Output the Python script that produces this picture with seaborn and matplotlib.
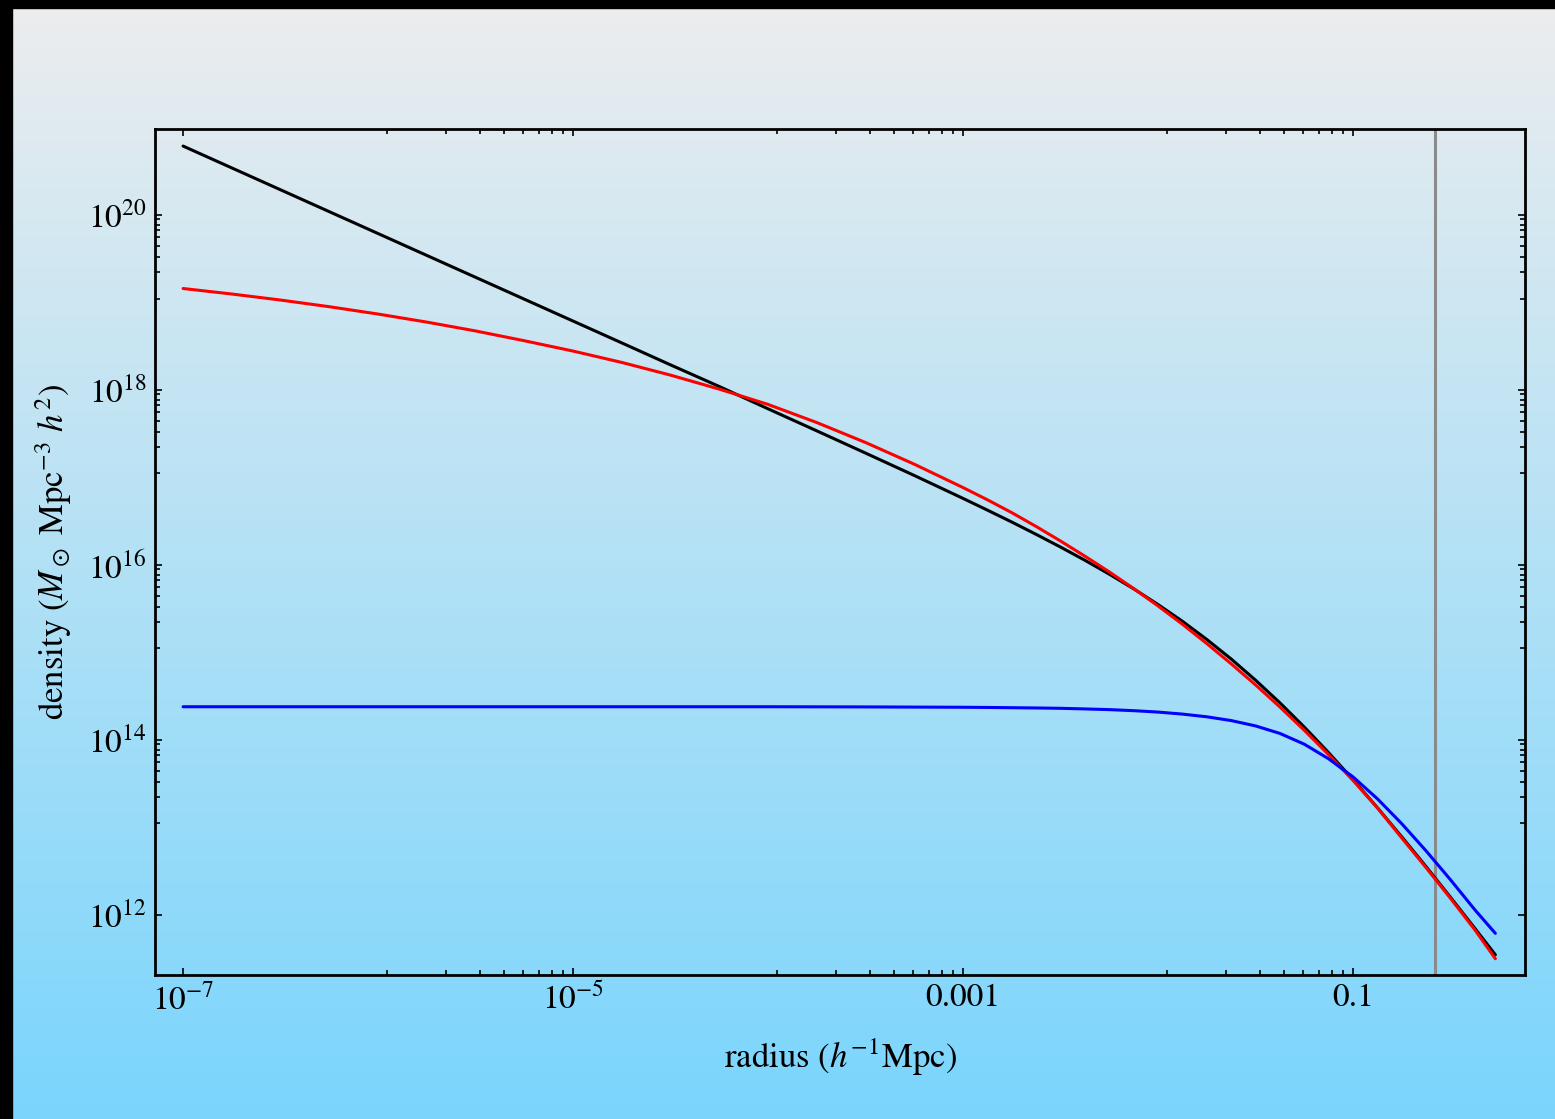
import numpy as np
import matplotlib
matplotlib.use('Agg')
import matplotlib.pyplot as plt
from matplotlib.patches import Rectangle
from matplotlib.ticker import FixedLocator, FixedFormatter, NullFormatter
import seaborn as sns

# 반지름 (log10, h^-1 Mpc)
log_r = [-7.0, -6.75, -6.5, -6.25, -6.0, -5.75, -5.5, -5.25, -5.0, -4.75, -4.5, -4.25,
         -4.0, -3.75, -3.5, -3.25, -3.0, -2.875, -2.75, -2.625, -2.5, -2.375, -2.25,
         -2.125, -2.0, -1.875, -1.75, -1.625, -1.5, -1.375, -1.25, -1.125, -1.0,
         -0.875, -0.75, -0.625, -0.5, -0.375, -0.27]

# 밀도 (log10, M_sun Mpc^-3 h^2)
log_black = [20.788, 20.538, 20.288, 20.038, 19.788, 19.538, 19.288, 19.038, 18.788,
             18.538, 18.287, 18.040, 17.785, 17.533, 17.279, 17.023, 16.761, 16.627,
             16.491, 16.350, 16.205, 16.054, 15.895, 15.728, 15.548, 15.357, 15.149,
             14.926, 14.684, 14.425, 14.148, 13.855, 13.547, 13.226, 12.893, 12.552,
             12.202, 11.847, 11.545]
log_red = [19.160, 19.097, 19.028, 18.952, 18.868, 18.776, 18.675, 18.563, 18.445,
           18.315, 18.170, 18.010, 17.835, 17.628, 17.400, 17.152, 16.885, 16.745,
           16.598, 16.440, 16.274, 16.101, 15.921, 15.731, 15.532, 15.323, 15.102,
           14.871, 14.630, 14.377, 14.111, 13.832, 13.538, 13.225, 12.880, 12.540,
           12.190, 11.830, 11.500]
log_blue = [14.380, 14.380, 14.380, 14.380, 14.380, 14.380, 14.380, 14.380, 14.380,
            14.380, 14.380, 14.380, 14.380, 14.379, 14.378, 14.376, 14.374, 14.372,
            14.369, 14.366, 14.362, 14.355, 14.347, 14.335, 14.319, 14.296, 14.265,
            14.222, 14.161, 14.075, 13.952, 13.785, 13.578, 13.328, 13.043, 12.732,
            12.402, 12.059, 11.790]

r_vir = 0.264

x_major = [1e-7, 1e-5, 1e-3, 1e-1]
x_labels = ['$10^{-7}$', '$10^{-5}$', '0.001', '0.1']
y_major = [1e12, 1e14, 1e16, 1e18, 1e20]
y_labels = ['$10^{12}$', '$10^{14}$', '$10^{16}$', '$10^{18}$', '$10^{20}$']

sns.set_style('ticks')
plt.rcParams['font.family'] = ['STIXGeneral', 'DejaVu Serif']
plt.rcParams['mathtext.fontset'] = 'stix'
plt.rcParams['text.color'] = 'black'
plt.rcParams['axes.labelcolor'] = 'black'
plt.rcParams['xtick.color'] = 'black'
plt.rcParams['ytick.color'] = 'black'

fig = plt.figure(figsize=(15.55, 11.19), dpi=100)

# 배경 그라데이션
bg = fig.add_axes([0, 0, 1, 1], zorder=0)
top = np.array([236, 237, 238]) / 255
bottom = np.array([122, 213, 253]) / 255
t = np.linspace(0, 1, 256)[:, None, None]
bg.imshow(top + (bottom - top) * t, aspect='auto', extent=[0, 1, 0, 1])
bg.add_patch(Rectangle((0, 1 - 8 / 1119), 1, 8 / 1119, color='black'))
bg.add_patch(Rectangle((0, 0), 12 / 1555, 1, color='black'))
bg.set_xlim(0, 1)
bg.set_ylim(0, 1)
bg.axis('off')

ax = fig.add_axes([155 / 1555, (1119 - 975) / 1119, 1370 / 1555, 846 / 1119], zorder=1)
ax.set_facecolor('none')

r = 10 ** np.array(log_r)
ax.axvline(r_vir, color='#8a8a8a', lw=2.2)
sns.lineplot(x=r, y=10 ** np.array(log_black), ax=ax, color='black', lw=2.2,
             estimator=None, sort=False)
sns.lineplot(x=r, y=10 ** np.array(log_red), ax=ax, color='red', lw=2.2,
             estimator=None, sort=False)
sns.lineplot(x=r, y=10 ** np.array(log_blue), ax=ax, color='blue', lw=2.2,
             estimator=None, sort=False)

ax.set_xscale('log')
ax.set_yscale('log')
ax.set_xlim(10 ** -7.144, 10 ** -0.118)
ax.set_ylim(10 ** 11.314, 10 ** 20.983)

ax.xaxis.set_major_locator(FixedLocator(x_major))
ax.xaxis.set_major_formatter(FixedFormatter(x_labels))
ax.xaxis.set_minor_locator(FixedLocator([m * k / 9 for m in x_major[1:] for k in range(1, 9)]))
ax.xaxis.set_minor_formatter(NullFormatter())
ax.yaxis.set_major_locator(FixedLocator(y_major))
ax.yaxis.set_major_formatter(FixedFormatter(y_labels))
ax.yaxis.set_minor_locator(FixedLocator([m * k / 9 for m in y_major[1:] for k in range(1, 9)]))
ax.yaxis.set_minor_formatter(NullFormatter())

ax.tick_params(which='both', direction='in', top=True, right=True, width=1.2,
               color='black', labelcolor='black', labelsize=24)
ax.tick_params(which='major', length=5, pad=6)
ax.tick_params(which='minor', length=3.5)
for s in ax.spines.values():
    s.set_linewidth(2)
    s.set_color('black')

ax.set_xlabel('radius ($h^{-1}$Mpc)', fontsize=25, labelpad=14)
ax.set_ylabel(r'density ($M_\odot$ Mpc$^{-3}$ $h^2$)', fontsize=25, labelpad=10)

fig.savefig('out.png', dpi=100)
